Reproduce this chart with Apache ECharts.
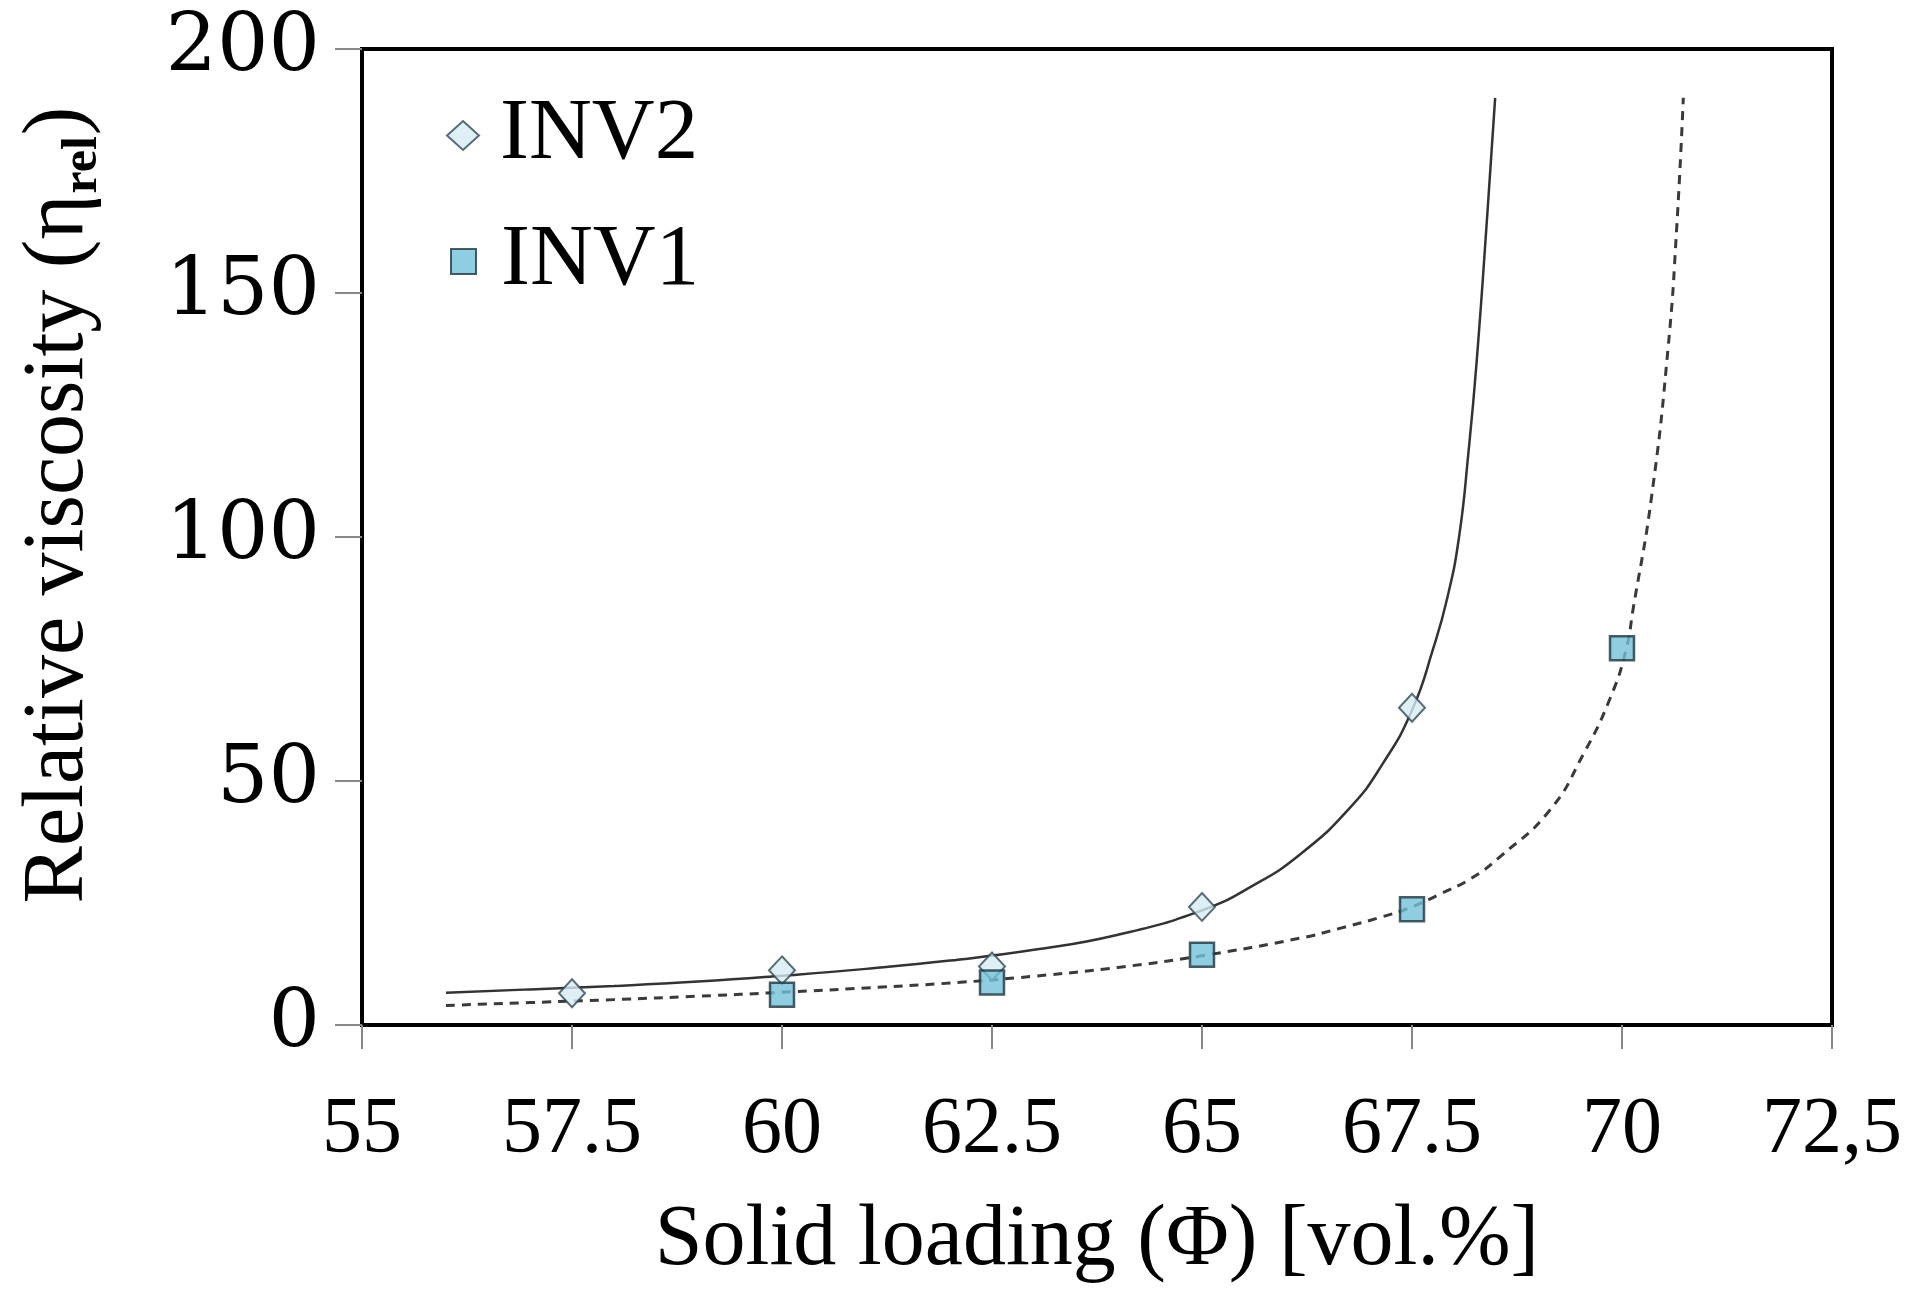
<!DOCTYPE html>
<html>
<head>
<meta charset="utf-8">
<script src="https://cdn.jsdelivr.net/npm/echarts@6/dist/echarts.min.js"></script>
<style>
html,body{margin:0;padding:0;background:#fff;}
#chart{width:1913px;height:1289px;}
</style>
</head>
<body>
<div id="chart"></div>
<script>
// ---- data ----
var xTickLabels = ['55', '57.5', '60', '62.5', '65', '67.5', '70', '72,5'];
var yTickLabels = ['0', '50', '100', '150', '200'];

var inv2X = [57.5, 60, 62.5, 65, 67.5];
var inv2Y = [6.5, 11.2, 12.0, 24.2, 65.0];

var inv1X = [60, 62.5, 65, 67.5, 70];
var inv1Y = [6.2, 8.7, 14.4, 23.7, 77.2];

var inv2FitX = [56, 57, 58, 59, 60, 61, 62, 63, 64, 65, 65.6, 66.17, 66.76, 67.15, 67.5, 67.75, 67.92, 68.06, 68.17, 68.27, 68.4, 68.49];
var inv2FitY = [6.6, 7.3, 8.0, 8.9, 10.1, 11.5, 13.2, 15.4, 18.5, 23.5, 28.5, 35, 44.5, 53.5, 64.5, 77, 87.5, 100, 117, 136, 167, 190];

var inv1FitX = [56, 57, 58, 59, 60, 61, 62, 63, 64, 65, 66.17, 66.64, 67.15, 67.5, 67.83, 68.2, 68.55, 69.14, 69.54, 69.86, 70.05, 70.13, 70.35, 70.55, 70.65, 70.73];
var inv1FitY = [4.0, 4.6, 5.2, 5.9, 6.7, 7.6, 8.6, 10.0, 11.8, 14.2, 17.8, 19.8, 22.2, 24.2, 26.8, 30, 34.5, 44, 55.5, 67, 77, 85, 108, 139, 163, 190];

// y-axis title pieces (main text, subscript, closing)
var yTitleMain = 'Relative viscosity (η';
var yTitleSub = 'rel';
var yTitleEnd = ')';

function pairs(xs, ys) { return xs.map(function (x, i) { return [x, ys[i]]; }); }

var serif = 'Liberation Serif';
var fontMain = '86px "Liberation Serif"';
var fontSub = 'bold 50px "Liberation Serif"';

// measure pieces so the rotated title can be laid out as plain text runs
var mctx = document.createElement('canvas').getContext('2d');
mctx.font = fontMain; var w1 = mctx.measureText(yTitleMain).width; var w3 = mctx.measureText(yTitleEnd).width;
mctx.font = fontSub; var w2 = mctx.measureText(yTitleSub).width;
var W = w1 + w2 + w3;
var x0 = -W / 2;

var chart = echarts.init(document.getElementById('chart'), null, {renderer: 'canvas'});
chart.setOption({
  backgroundColor: '#ffffff',
  animation: false,
  textStyle: {fontFamily: serif},
  grid: {left: 362, right: 81, top: 49, bottom: 260, show: true, borderColor: '#000', borderWidth: 4, backgroundColor: 'transparent'},
  graphic: [{
    type: 'group', x: 59, y: 506, rotation: Math.PI / 2, z: 10,
    children: [{
      type: 'text', x: x0, y: 0,
      style: {text: yTitleMain, font: fontMain, fill: '#000', align: 'left', verticalAlign: 'middle'}
    }, {
      type: 'text', x: x0 + w1 + 1, y: 24,
      style: {text: yTitleSub, font: fontSub, fill: '#000', align: 'left', verticalAlign: 'middle'}
    }, {
      type: 'text', x: x0 + w1 + w2 + 2, y: 0,
      style: {text: yTitleEnd, font: fontMain, fill: '#000', align: 'left', verticalAlign: 'middle'}
    }]
  }],
  legend: [{
    data: ['INV2'], orient: 'vertical', left: 441, top: 87,
    itemWidth: 32, itemHeight: 29, icon: 'diamond',
    textStyle: {fontFamily: serif, fontSize: 87, color: '#000', padding: [0, 0, 0, 16]}
  }, {
    data: ['INV1'], orient: 'vertical', left: 445, top: 213,
    itemWidth: 25, itemHeight: 25, icon: 'rect',
    textStyle: {fontFamily: serif, fontSize: 87, color: '#000', padding: [0, 0, 0, 20]}
  }],
  xAxis: {
    type: 'value', min: 55, max: 72.5, interval: 2.5,
    axisLine: {show: true, onZero: false, lineStyle: {color: '#000', width: 4}},
    axisTick: {show: true, inside: false, length: 24, lineStyle: {color: '#888', width: 2}},
    splitLine: {show: false},
    axisLabel: {
      margin: 66, fontFamily: serif, fontSize: 80, color: '#000',
      formatter: function (v) { return xTickLabels[Math.round((v - 55) / 2.5)]; }
    },
    name: 'Solid loading (Φ) [vol.%]', nameLocation: 'middle', nameGap: 173,
    nameTextStyle: {fontFamily: serif, fontSize: 86, color: '#000'}
  },
  yAxis: {
    type: 'value', min: 0, max: 200, interval: 50,
    axisLine: {show: true, onZero: false, lineStyle: {color: '#000', width: 4}},
    axisTick: {show: true, inside: false, length: 27, lineStyle: {color: '#888', width: 2}},
    splitLine: {show: false},
    axisLabel: {
      margin: 42, fontFamily: 'DejaVu Serif', fontSize: 81, color: '#000',
      formatter: function (v) { return yTickLabels[Math.round(v / 50)]; }
    }
  },
  series: [{
    name: 'INV2 fit', type: 'line', data: pairs(inv2FitX, inv2FitY),
    smooth: 0.5, showSymbol: false, silent: true, z: 2,
    lineStyle: {color: '#333', width: 2.5}
  }, {
    name: 'INV1 fit', type: 'line', data: pairs(inv1FitX, inv1FitY),
    smooth: 0.5, showSymbol: false, silent: true, z: 2,
    lineStyle: {color: '#3a3a3a', width: 3, type: [9, 7]}
  }, {
    name: 'INV2', type: 'scatter', data: pairs(inv2X, inv2Y),
    symbol: 'diamond', symbolSize: [26, 28], z: 5,
    itemStyle: {color: '#d6ebf2', borderColor: '#2f4a55', borderWidth: 2}
  }, {
    name: 'INV1', type: 'scatter', data: pairs(inv1X, inv1Y),
    symbol: 'rect', symbolSize: 24, z: 5,
    itemStyle: {color: '#72c2d8', borderColor: '#1e3640', borderWidth: 2.5}
  }]
});
</script>
</body>
</html>
